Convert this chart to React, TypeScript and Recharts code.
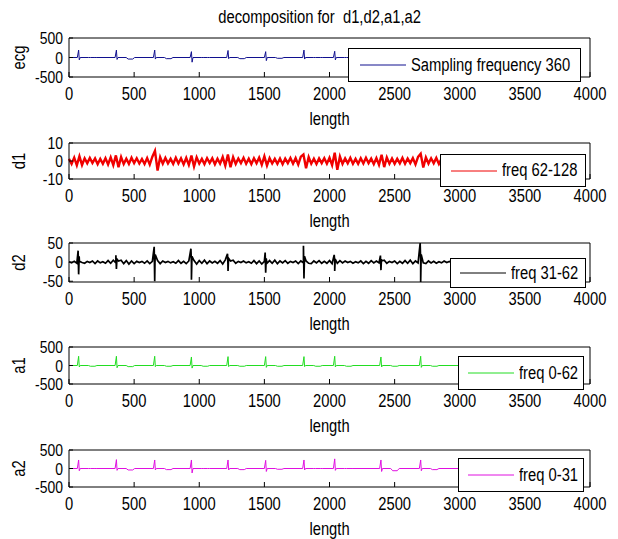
import { LineChart, Line, XAxis, YAxis, Legend } from "recharts";

const FONT = "'Liberation Sans', Arial, sans-serif";
const NARROW = 0.82; // MATLAB's Helvetica renders condensed, squeeze Arial to match

// sample index ticks shared by every panel
const xTicks = [0, 500, 1000, 1500, 2000, 2500, 3000, 3500, 4000];
const bigTicks = [-500, 0, 500];
const d1Ticks = [-10, 0, 10];
const d2Ticks = [-50, 0, 50];

// R-peak positions (sample index)
const beatX = [74, 364, 658, 940, 1221, 1510, 1804, 2040, 2395, 2700];

// per-beat R peak, S dip and T-wave level
const ecgR = [190, 190, 190, 150, 180, 150, 190, 160, 170, 180];
const ecgS = [-60, -50, -40, -120, -30, -80, -40, -60, -70, -60];
const ecgT = [0, -40, -30, 0, -30, -20, 0, 0, -30, -30];

const a1R = [250, 250, 250, 230, 240, 240, 240, 250, 230, 250];
const a1S = [-40, -60, -30, -70, -30, -50, -30, -40, -40, -50];
const a1T = [-20, -30, -20, -20, -20, -20, -20, -20, -20, -20];

const a2R = [230, 240, 230, 230, 230, 220, 230, 260, 230, 230];
const a2S = [-60, -50, -40, -120, -40, -80, -40, -50, -80, -60];
const a2T = [0, -40, -30, 0, -30, -20, 0, 0, -60, -30];

// detail coefficients, one value every 20 samples
const step = 20;
const d1Vals = [
  1.2, -1.6, 1.9, -2.4, 2.6, -2.2, 1.5, -1.3, 1.7, -1.1,
  1.4, -1.8, 1.2, -1.5, 1.6, -1.9, 2.0, -2.3, 3.1, -3.4,
  2.2, -1.7, 1.3, -1.6, 1.8, -1.2, 1.5, -1.4, 1.1, -1.7,
  1.6, -2.0, 2.4, 5.6, -5.3, 2.1, -1.5, 1.7, -1.3, 1.2,
  -1.6, 1.8, -1.4, 1.5, -1.9, 1.7, -2.2, 3.0, -3.1, 2.0,
  -1.4, 1.2, -1.7, 1.6, -1.1, 1.5, -1.8, 1.3, -1.5, 2.2,
  -2.6, 3.6, -3.5, 2.1, -1.6, 1.4, -1.2, 1.8, -1.5, 1.3,
  -1.7, 1.5, -1.3, 1.9, -2.1, 2.6, -2.5, 1.6, -1.4, 1.2,
  -1.6, 1.4, -1.8, 1.3, -1.2, 1.7, -1.5, 1.6, -2.0, 2.4,
  3.6, -4.0, 2.2, -1.5, 1.3, -1.7, 1.4, -1.2, 1.6, -1.5,
  1.8, -2.3, 4.6, -4.9, 2.5, -1.6, 1.4, -1.3, 1.7, -1.5,
  1.2, -1.6, 1.5, -1.4, 1.8, -1.2, 1.3, -1.7, 1.6, -2.1,
  3.5, -3.4, 2.0, -1.5, 1.4, -1.6, 1.2, -1.3, 1.7, -1.5,
  1.4, -1.2, 1.6, -1.9, 2.3, 4.0, -3.6, 2.0, -1.4, 1.5,
  -1.3, 1.7, -1.6, 1.2, -1.4, 1.5, -1.7, 1.3, -1.2, 1.4,
];
const d2Vals = [
  1, -2, 2, -3, 2, -1, -3, 2, -1, 3,
  -4, 3, -2, 1, -3, 4, -3, 5, -2, 3,
  5, -4, 4, -5, 3, -4, 2, -1, 2, -3,
  3, -4, 2, -3, 4, -4, 3, -1, 2, -2,
  1, -3, 4, -3, 2, -4, 3, -2, 4, -5,
  4, -3, 5, -4, 3, -2, 2, -3, 4, -5,
  6, -4, 3, 5, -3, 2, -1, 3, -2, 1,
  -3, 4, -4, 3, -5, 2, -3, 4, -3, 5,
  -4, 3, -2, 4, -3, 2, -1, 3, -4, 3,
  -2, 3, -3, -4, 3, -2, 4, -3, 2, -3,
  4, -4, 2, -3, 4, -2, 3, -1, 2, -3,
  1, -2, 3, -4, 2, -3, 4, -2, 3, -2,
  3, 5, -3, 2, -1, 3, -4, 2, -3, 4,
  -3, 5, -4, 3, -2, 3, -2, -4, 3, -2,
  2, -3, 1, -2, 3, -1, 2, -3, 1, -2,
];
// d2 bursts at each beat: rise, fall, rebound
const d2Up = [30, 18, 40, 35, 22, 25, 43, 19, 17, 50];
const d2Down = [-32, -18, -50, -46, -23, -28, -43, -23, -21, -52];
const d2Tail = [15, 8, 20, 15, 10, 10, 15, 8, 8, 20];

type Row = { x: number; v: number };

function beatRows(r: number[], s: number[], t: number[]): Row[] {
  const rows: Row[] = [{ x: 0, v: 0 }];
  beatX.forEach((p, i) => {
    rows.push(
      { x: p - 10, v: 0 },
      { x: p, v: r[i] },
      { x: p + 5, v: s[i] },
      { x: p + 12, v: 0 },
      { x: p + 75, v: 0 },
      { x: p + 90, v: t[i] },
      { x: p + 125, v: t[i] },
      { x: p + 140, v: 0 }
    );
  });
  rows.push({ x: 3000, v: 0 });
  return rows;
}

const sampled = (vals: number[]): Row[] => vals.map((v, i) => ({ x: i * step, v }));

function d2Rows(): Row[] {
  const rows = sampled(d2Vals);
  beatX.forEach((p, i) => {
    rows.push({ x: p - 4, v: d2Up[i] }, { x: p, v: d2Down[i] }, { x: p + 4, v: d2Tail[i] });
  });
  return rows.sort((a, b) => a.x - b.x);
}

const XTick = ({ x, y, payload }: any) => (
  <text
    transform={`translate(${x},${y}) scale(${NARROW},1)`}
    textAnchor="middle"
    dy="0.71em"
    fontSize={18}
    fontFamily={FONT}
    fill="#000"
  >
    {payload.value}
  </text>
);

const YTick = ({ x, y, payload }: any) => (
  <text
    transform={`translate(${x},${y}) scale(${NARROW},1)`}
    textAnchor="end"
    dy="0.36em"
    fontSize={17}
    fontFamily={FONT}
    fill="#000"
  >
    {payload.value}
  </text>
);

interface PanelProps {
  data: Row[];
  color: string;
  domain: [number, number];
  yTicks: number[];
  yLabel: string;
  legendText: string;
  boxTop: number;
  boxHeight: number;
  legend: { left: number; top: number; width: number; height: number; pad: number };
  width?: number;
}

const PLOT_LEFT = 69;
const PLOT_RIGHT = 590;
const TOP_PAD = 12;
const X_AXIS_H = 35;

function Panel({ data, color, domain, yTicks, yLabel, legendText, boxTop, boxHeight, legend, width = 1 }: PanelProps) {
  const chartTop = boxTop - TOP_PAD;
  const chartH = TOP_PAD + boxHeight + X_AXIS_H + 26;
  return (
    <div style={{ position: "absolute", left: 0, top: chartTop }}>
      <LineChart
        width={618}
        height={chartH}
        data={data}
        margin={{
          top: TOP_PAD - 1,
          right: 618 - PLOT_RIGHT - 1,
          bottom: chartH - TOP_PAD - boxHeight - X_AXIS_H,
          left: 9,
        }}
      >
        <XAxis
          xAxisId="b"
          dataKey="x"
          type="number"
          domain={[0, 4000]}
          ticks={xTicks}
          interval={0}
          height={X_AXIS_H}
          tickSize={-5}
          tickMargin={15}
          stroke="#000"
          tick={<XTick />}
          label={{
            content: (p: any) => {
              const vb = p.viewBox || {};
              const cx = (vb.x ?? PLOT_LEFT) + (vb.width ?? PLOT_RIGHT - PLOT_LEFT) / 2;
              const ty = (vb.y ?? TOP_PAD + boxHeight) + (vb.height ?? X_AXIS_H);
              return (
                <text
                  transform={`translate(${cx},${ty}) scale(${NARROW},1)`}
                  textAnchor="middle"
                  dy="0.71em"
                  fontSize={18}
                  fontFamily={FONT}
                  fill="#000"
                >
                  length
                </text>
              );
            },
          }}
        />
        <XAxis
          xAxisId="t"
          orientation="top"
          dataKey="x"
          type="number"
          domain={[0, 4000]}
          ticks={xTicks}
          interval={0}
          height={1}
          tickSize={-5}
          stroke="#000"
          tick={false}
        />
        <YAxis
          yAxisId="l"
          type="number"
          domain={domain}
          ticks={yTicks}
          interval={0}
          width={PLOT_LEFT - 9}
          tickSize={-4}
          tickMargin={10}
          stroke="#000"
          tick={<YTick />}
          label={{
            content: (p: any) => {
              const vb = p.viewBox || {};
              const cy = (vb.y ?? TOP_PAD) + (vb.height ?? boxHeight) / 2;
              return (
                <text
                  transform={`translate(18,${cy}) rotate(-90) scale(${NARROW},1)`}
                  textAnchor="middle"
                  dominantBaseline="central"
                  fontSize={18}
                  fontFamily={FONT}
                  fill="#000"
                >
                  {yLabel}
                </text>
              );
            },
          }}
        />
        <YAxis
          yAxisId="r"
          orientation="right"
          type="number"
          domain={domain}
          ticks={yTicks}
          interval={0}
          width={1}
          tickSize={-4}
          stroke="#000"
          tick={false}
        />
        <Legend
          layout="vertical"
          verticalAlign="middle"
          align="center"
          wrapperStyle={{
            position: "absolute",
            left: legend.left,
            top: legend.top - chartTop,
            width: legend.width,
            height: legend.height,
          }}
          content={() => (
            <div
              style={{
                boxSizing: "border-box",
                width: legend.width,
                height: legend.height,
                background: "#fff",
                border: "1px solid #000",
                display: "flex",
                alignItems: "center",
                paddingLeft: legend.pad,
                fontFamily: FONT,
                fontSize: 18,
                color: "#000",
                whiteSpace: "nowrap",
                overflow: "hidden",
              }}
            >
              <svg width={46} height={4} style={{ marginRight: 5, flex: "none" }}>
                <line x1={0} y1={2} x2={46} y2={2} stroke={color} strokeWidth={1} />
              </svg>
              <span style={{ display: "inline-block", transform: `scaleX(${NARROW})`, transformOrigin: "left center" }}>
                {legendText}
              </span>
            </div>
          )}
        />
        <Line
          xAxisId="b"
          yAxisId="l"
          type="linear"
          dataKey="v"
          name={legendText}
          stroke={color}
          strokeWidth={width}
          strokeLinejoin="miter"
          dot={false}
          isAnimationActive={false}
        />
      </LineChart>
    </div>
  );
}

export default function App() {
  return (
    <div
      style={{
        position: "absolute",
        left: 0,
        top: 0,
        width: 618,
        height: 539,
        overflow: "hidden",
        background: "#fff",
        fontFamily: FONT,
      }}
    >
      <div
        style={{
          position: "absolute",
          left: 20,
          width: 600,
          top: 6,
          textAlign: "center",
          fontSize: 18,
          lineHeight: "22px",
          color: "#000",
        }}
      >
        <span style={{ display: "inline-block", whiteSpace: "pre", transform: `scaleX(${NARROW})` }}>
          decomposition for  d1,d2,a1,a2
        </span>
      </div>
      <Panel
        data={beatRows(ecgR, ecgS, ecgT)}
        color="#10108f"
        domain={[-500, 500]}
        yTicks={bigTicks}
        yLabel="ecg"
        legendText="Sampling frequency 360"
        boxTop={38}
        boxHeight={39}
        legend={{ left: 348, top: 48, width: 233, height: 34, pad: 11 }}
      />
      <Panel
        data={sampled(d1Vals)}
        color="#f00000"
        domain={[-10, 10]}
        yTicks={d1Ticks}
        yLabel="d1"
        legendText="freq 62-128"
        boxTop={143}
        boxHeight={36}
        legend={{ left: 440, top: 154, width: 146, height: 33, pad: 10 }}
        width={2.4}
      />
      <Panel
        data={d2Rows()}
        color="#000000"
        domain={[-50, 50]}
        yTicks={d2Ticks}
        yLabel="d2"
        legendText="freq 31-62"
        boxTop={243}
        boxHeight={39}
        legend={{ left: 450, top: 258, width: 136, height: 30, pad: 9 }}
        width={1.7}
      />
      <Panel
        data={beatRows(a1R, a1S, a1T)}
        color="#22dd22"
        domain={[-500, 500]}
        yTicks={bigTicks}
        yLabel="a1"
        legendText="freq 0-62"
        boxTop={347}
        boxHeight={37}
        legend={{ left: 458, top: 356, width: 126, height: 34, pad: 9 }}
      />
      <Panel
        data={beatRows(a2R, a2S, a2T)}
        color="#e010e0"
        domain={[-500, 500]}
        yTicks={bigTicks}
        yLabel="a2"
        legendText="freq 0-31"
        boxTop={450}
        boxHeight={37}
        legend={{ left: 458, top: 458, width: 126, height: 34, pad: 9 }}
      />
    </div>
  );
}
